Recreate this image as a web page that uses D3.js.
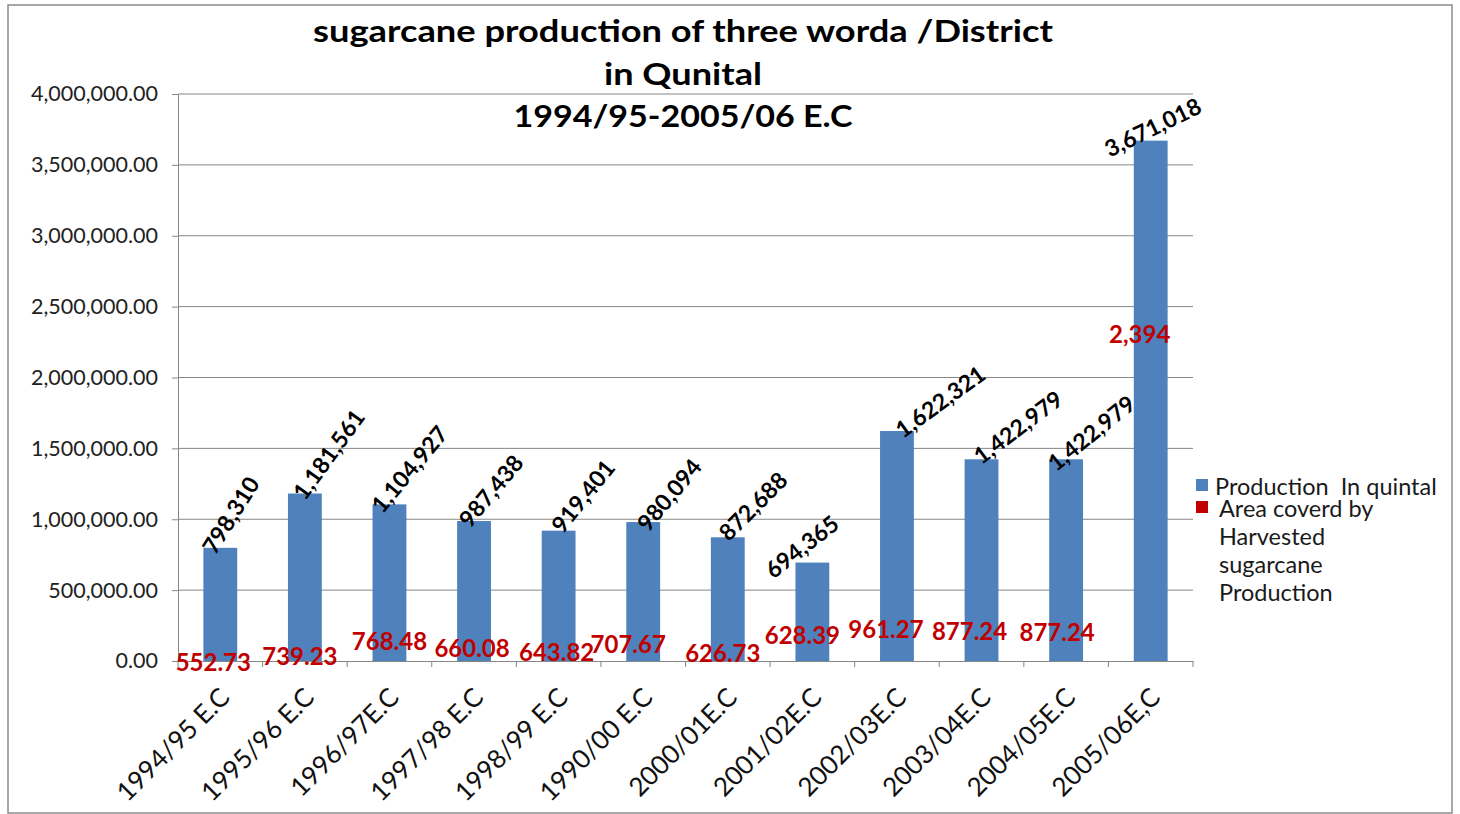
<!DOCTYPE html>
<html lang="en">
  <head>
    <meta charset="UTF-8">
    <title>Sugarcane production</title>
    <style>
      body { margin: 0; background: #fff; }
      svg text { font-family: Lato, "Open Sans", sans-serif; }
      .axis-y path, .axis-x path { stroke: #868686; }
      .axis-y .tick line { stroke: #868686; }
      .axis-y text { font-size: 21.5px; fill: #222; }
      .axis-x text { font-size: 26px; fill: #111; }
    </style>
    <script src="https://d3js.org/d3.v7.min.js"></script>
  </head>
  <body>
    <script>
      const categories = ["1994/95 E.C", "1995/96 E.C", "1996/97E.C", "1997/98 E.C", "1998/99 E.C", "1990/00 E.C",
        "2000/01E.C", "2001/02E.C", "2002/03E.C", "2003/04E.C", "2004/05E.C", "2005/06E,C"];
      const production = [798310, 1181561, 1104927, 987438, 919401, 980094, 872688, 694365, 1622321, 1422979, 1422979, 3671018];
      const area = [552.73, 739.23, 768.48, 660.08, 643.82, 707.67, 626.73, 628.39, 961.27, 877.24, 877.24, 2394];
      const yTicks = [0, 500000, 1000000, 1500000, 2000000, 2500000, 3000000, 3500000, 4000000];
      const seriesNames = ["Production  In quintal", "Area coverd by|Harvested|sugarcane|Production"];
      const titleLines = ["sugarcane production of three worda /District", "in Qunital", "1994/95-2005/06 E.C"];

      // hand-placed label tweaks (the original labels were dragged/rotated by hand)
      const prodAngle = [-58, -54, -50, -50, -51, -50, -45, -38, -36, -37, -39, -26];
      const prodNudge = [[-5, 8], [0, 8], [-7, 10], [-4, 8], [4, 4], [5, 11], [1, 5], [-39, 17],
        [6, 8], [0, 6], [-10, 13], [-41, 17]];
      const areaNudge = [[-7, 1], [-5, -5], [0, -20], [-2, -13], [-2, -9], [-15, -17], [-5, -8], [-10, -26],
        [-11, -32], [-12, -30], [-9, -29], [-11, -327]];
      const titleWidths = [740, 158, 339];

      const W = 1460, H = 814;
      const margin = { top: 94, left: 178, right: 267, bottom: 153 };
      const width = W - margin.left - margin.right;
      const height = H - margin.top - margin.bottom;

      const root = d3.select("body").append("svg")
        .attr("width", W)
        .attr("height", H);

      // outer frame
      root.append("rect")
        .attr("x", 8).attr("y", 5)
        .attr("width", 1444).attr("height", 808)
        .attr("fill", "none")
        .attr("stroke", "#8c8c8c")
        .attr("stroke-width", 1.5);

      const svg = root.append("g")
        .attr("transform", `translate(${margin.left},${margin.top})`);

      const x = d3.scaleBand().domain(categories).range([0, width]);
      const y = d3.scaleLinear().domain([0, 4000000]).range([height, 0]);

      // gridlines
      svg.selectAll(".grid")
        .data(yTicks.slice(1))
        .enter()
        .append("line")
        .attr("x1", 0).attr("x2", width)
        .attr("y1", d => y(d)).attr("y2", d => y(d))
        .attr("stroke", "#868686");

      svg.append("g")
        .attr("class", "axis-y")
        .call(d3.axisLeft(y).tickValues(yTicks).tickFormat(d3.format(",.2f")).tickSize(6).tickSizeOuter(0).tickPadding(14));

      const barW = x.bandwidth() / 2.5;

      // area series sits on the same axis, so its bars are practically flat
      svg.selectAll(".bar2")
        .data(area)
        .enter()
        .append("rect")
        .attr("x", (d, i) => x(categories[i]) + (x.bandwidth() - barW) / 2)
        .attr("y", d => y(d))
        .attr("width", barW)
        .attr("height", d => height - y(d))
        .attr("fill", "#C00000");

      svg.selectAll(".bar")
        .data(production)
        .enter()
        .append("rect")
        .attr("x", (d, i) => x(categories[i]) + (x.bandwidth() - barW) / 2)
        .attr("y", d => y(d))
        .attr("width", barW)
        .attr("height", d => height - y(d))
        .attr("fill", "#4F81BD");

      // x axis
      const xAxis = svg.append("g")
        .attr("class", "axis-x")
        .attr("transform", `translate(0,${height})`)
        .call(d3.axisBottom(x).tickSize(0).tickSizeOuter(0));
      xAxis.select(".domain").attr("stroke", "#868686");
      xAxis.selectAll("text")
        .attr("text-anchor", "end")
        .attr("dy", null)
        .attr("y", 0)
        .attr("transform", "translate(11,38) rotate(-45)");

      svg.selectAll(".xtick")
        .data(categories.concat(["end"]))
        .enter()
        .append("line")
        .attr("x1", (d, i) => i < categories.length ? x(d) : width)
        .attr("x2", (d, i) => i < categories.length ? x(d) : width)
        .attr("y1", height).attr("y2", height + 6)
        .attr("stroke", "#868686");

      // production labels
      const fmt = d3.format(",");
      svg.selectAll(".plabel")
        .data(production)
        .enter()
        .append("text")
        .attr("font-size", 23)
        .attr("font-weight", "bold")
        .attr("text-anchor", "start")
        .attr("transform", (d, i) => {
          const cx = x(categories[i]) + x.bandwidth() / 2 + prodNudge[i][0];
          const cy = y(d) + prodNudge[i][1];
          return `translate(${cx},${cy}) rotate(${prodAngle[i]})`;
        })
        .text(d => fmt(d));

      // area labels
      svg.selectAll(".alabel")
        .data(area)
        .enter()
        .append("text")
        .attr("font-size", 24)
        .attr("font-weight", "bold")
        .attr("fill", "#C00000")
        .attr("text-anchor", "middle")
        .attr("dominant-baseline", "central")
        .attr("x", (d, i) => x(categories[i]) + x.bandwidth() / 2 + areaNudge[i][0])
        .attr("y", (d, i) => y(d) + areaNudge[i][1])
        .text(d => d >= 1000 ? fmt(d) : d.toFixed(2));

      // title
      root.selectAll(".title")
        .data(titleLines)
        .enter()
        .append("text")
        .attr("x", 683)
        .attr("y", (d, i) => 42 + i * 42.5)
        .attr("text-anchor", "middle")
        .attr("font-size", 31)
        .attr("font-weight", "bold")
        .attr("textLength", (d, i) => titleWidths[i])
        .attr("lengthAdjust", "spacingAndGlyphs")
        .text(d => d);

      // legend
      const legend = root.append("g").attr("transform", "translate(1196,479)");
      const colors = ["#4F81BD", "#C00000"];
      seriesNames.forEach((name, i) => {
        legend.append("rect")
          .attr("x", 0).attr("y", i * 22)
          .attr("width", 12).attr("height", 12)
          .attr("fill", colors[i]);
        const t = legend.append("text")
          .attr("y", i * 22 + 7)
          .attr("dominant-baseline", "central")
          .attr("font-size", 23.5)
          .attr("fill", "#1a1a1a")
          .style("white-space", "pre");
        name.split("|").forEach((line, j) => {
          t.append("tspan")
            .attr("x", i === 0 ? 19 : 23)
            .attr("dy", j === 0 ? 0 : 28)
            .text(line);
        });
      });
    </script>
  </body>
</html>
